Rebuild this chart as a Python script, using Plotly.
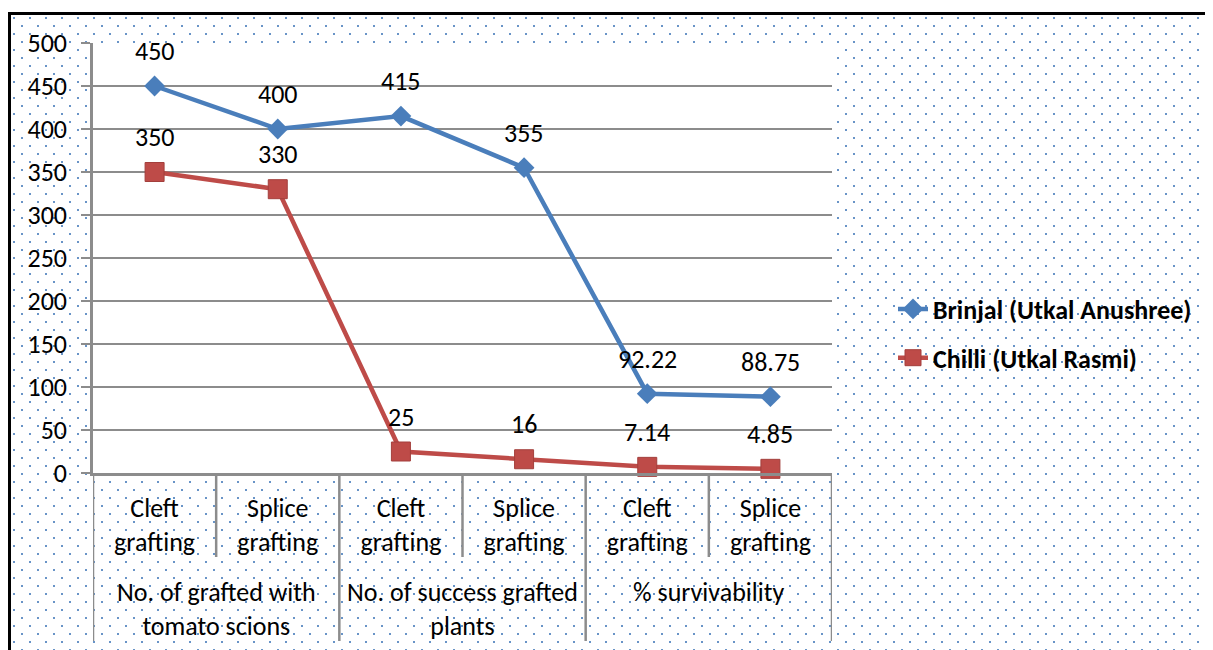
import base64
import plotly.graph_objects as go

# ---------------- data ----------------
subcats = ["Cleft<br>grafting", "Splice<br>grafting", "Cleft<br>grafting",
           "Splice<br>grafting", "Cleft<br>grafting", "Splice<br>grafting"]
groups = ["No. of grafted with<br>tomato scions", "No. of success grafted<br>plants", "% survivability"]
group_sizes = [2, 2, 2]
brinjal = [450, 400, 415, 355, 92.22, 88.75]
chilli = [350, 330, 25, 16, 7.14, 4.85]
series_names = ["Brinjal (Utkal Anushree)", "Chilli (Utkal Rasmi)"]
y_ticks = [0, 50, 100, 150, 200, 250, 300, 350, 400, 450, 500]

# ---------------- geometry (screen pixels; page has an 8px body margin) ----------------
OFF = 8
SW, SH = 1213, 650
W, H = SW - OFF, SH - OFF
L, R, T, B = 93, 832, 43, 473
pw, ph = R - L, B - T


def px_x(p):
    return (p - L) / pw


def px_y(p):
    return (B - p) / ph


FONT = "Carlito, Lato, 'Open Sans', sans-serif"
FS = 26
BLUE = "#4A7EBB"
RED = "#BE4B48"
GRID = "#8C8C8C"

xpos = list(range(len(subcats)))

fig = go.Figure()
fig.add_trace(go.Scatter(
    x=xpos, y=brinjal, name=series_names[0], mode="lines+markers",
    line=dict(color=BLUE, width=4.5),
    marker=dict(symbol="diamond", size=16, color=BLUE),
    cliponaxis=False, legendgroup="a"))
fig.add_trace(go.Scatter(
    x=xpos, y=chilli, name=series_names[1], mode="lines+markers",
    line=dict(color=RED, width=4.5),
    marker=dict(symbol="square", size=19, color=RED, line=dict(color="#A33F3C", width=1)),
    cliponaxis=False, legendgroup="b"))

annotations = []
for series in (brinjal, chilli):
    for xi, v in zip(xpos, series):
        annotations.append(dict(x=xi, y=v, xref="x", yref="y", text=format(v, "g"),
                                showarrow=False, yshift=35,
                                font=dict(family=FONT, size=FS, color="#000000")))

# group labels (top-aligned)
start = 0
for g, n in zip(groups, group_sizes):
    annotations.append(dict(x=start + (n - 1) / 2, y=px_y(574), xref="x", yref="paper",
                            text=g, showarrow=False, yanchor="top",
                            font=dict(family=FONT, size=FS, color="#000000")))
    start += n

shapes = []
# white plot area over dotted background
shapes.append(dict(type="rect", xref="paper", yref="paper", x0=0, x1=1, y0=0, y1=1,
                   fillcolor="white", line=dict(width=0), layer="below"))
group_bounds = {0}
acc = 0
for n in group_sizes:
    acc += n
    group_bounds.add(acc)
for i in range(len(subcats) + 1):
    bottom = px_y(641) if i in group_bounds else px_y(557)
    shapes.append(dict(type="line", xref="x", yref="paper", x0=i - 0.5, x1=i - 0.5,
                       y0=0, y1=bottom, line=dict(color=GRID, width=2.5)))
# outer black frame (left and top edges visible)
shapes.append(dict(type="line", xref="paper", yref="paper",
                   x0=px_x(9.5), x1=px_x(1260), y0=px_y(13.5), y1=px_y(13.5),
                   line=dict(color="black", width=3)))
shapes.append(dict(type="line", xref="paper", yref="paper",
                   x0=px_x(9.5), x1=px_x(9.5), y0=px_y(12), y1=px_y(700),
                   line=dict(color="black", width=3)))

# dotted background pattern image
bw, bh = SW - 10, SH - 14
svg = (f'<svg xmlns="http://www.w3.org/2000/svg" width="{bw}" height="{bh}" '
       f'viewBox="0 0 {bw} {bh}" preserveAspectRatio="none">'
       '<defs><pattern id="p" width="16" height="16" patternUnits="userSpaceOnUse">'
       '<rect x="3" y="3" width="2" height="2" fill="#4F81BD" fill-opacity="0.85"/>'
       '<rect x="11" y="11" width="2" height="2" fill="#4F81BD" fill-opacity="0.85"/>'
       '</pattern></defs>'
       f'<rect width="{bw}" height="{bh}" fill="url(#p)"/></svg>')
src = "data:image/svg+xml;base64," + base64.b64encode(svg.encode()).decode()

fig.update_layout(
    width=W, height=H,
    margin=dict(l=L - OFF, r=W - (R - OFF), t=T - OFF, b=H - (B - OFF), autoexpand=False),
    paper_bgcolor="white", plot_bgcolor="white",
    font=dict(family=FONT, size=FS, color="#000000"),
    showlegend=True,
    legend=dict(x=px_x(893), y=px_y(333.5), xanchor="left", yanchor="middle",
                font=dict(family=FONT, size=FS, color="#000000", weight="bold"),
                bgcolor="rgba(0,0,0,0)", tracegroupgap=12, traceorder="grouped"),
    annotations=annotations,
    shapes=shapes,
    images=[dict(source=src, xref="paper", yref="paper", x=px_x(10), y=px_y(14),
                 sizex=bw / pw, sizey=bh / ph, sizing="stretch",
                 xanchor="left", yanchor="top", layer="below")],
    xaxis=dict(range=[-0.5, len(subcats) - 0.5], tickvals=xpos, ticktext=subcats,
               ticks="", showgrid=False, zeroline=False,
               showline=True, linecolor=GRID, linewidth=2.5,
               ticklabelstandoff=10,
               tickfont=dict(family=FONT, size=FS, color="#000000")),
    yaxis=dict(range=[0, 500], tickvals=y_ticks, showgrid=True, gridcolor=GRID, gridwidth=2,
               zeroline=False, showline=True, linecolor=GRID, linewidth=2.5,
               ticks="outside", ticklen=9, tickwidth=2, tickcolor=GRID,
               ticklabelstandoff=9,
               tickfont=dict(family=FONT, size=FS, color="#000000")),
)

fig.write_html(
    "out.html",
    post_script="document.documentElement.style.overflow='hidden';"
                "document.body.style.overflow='hidden';",
)
